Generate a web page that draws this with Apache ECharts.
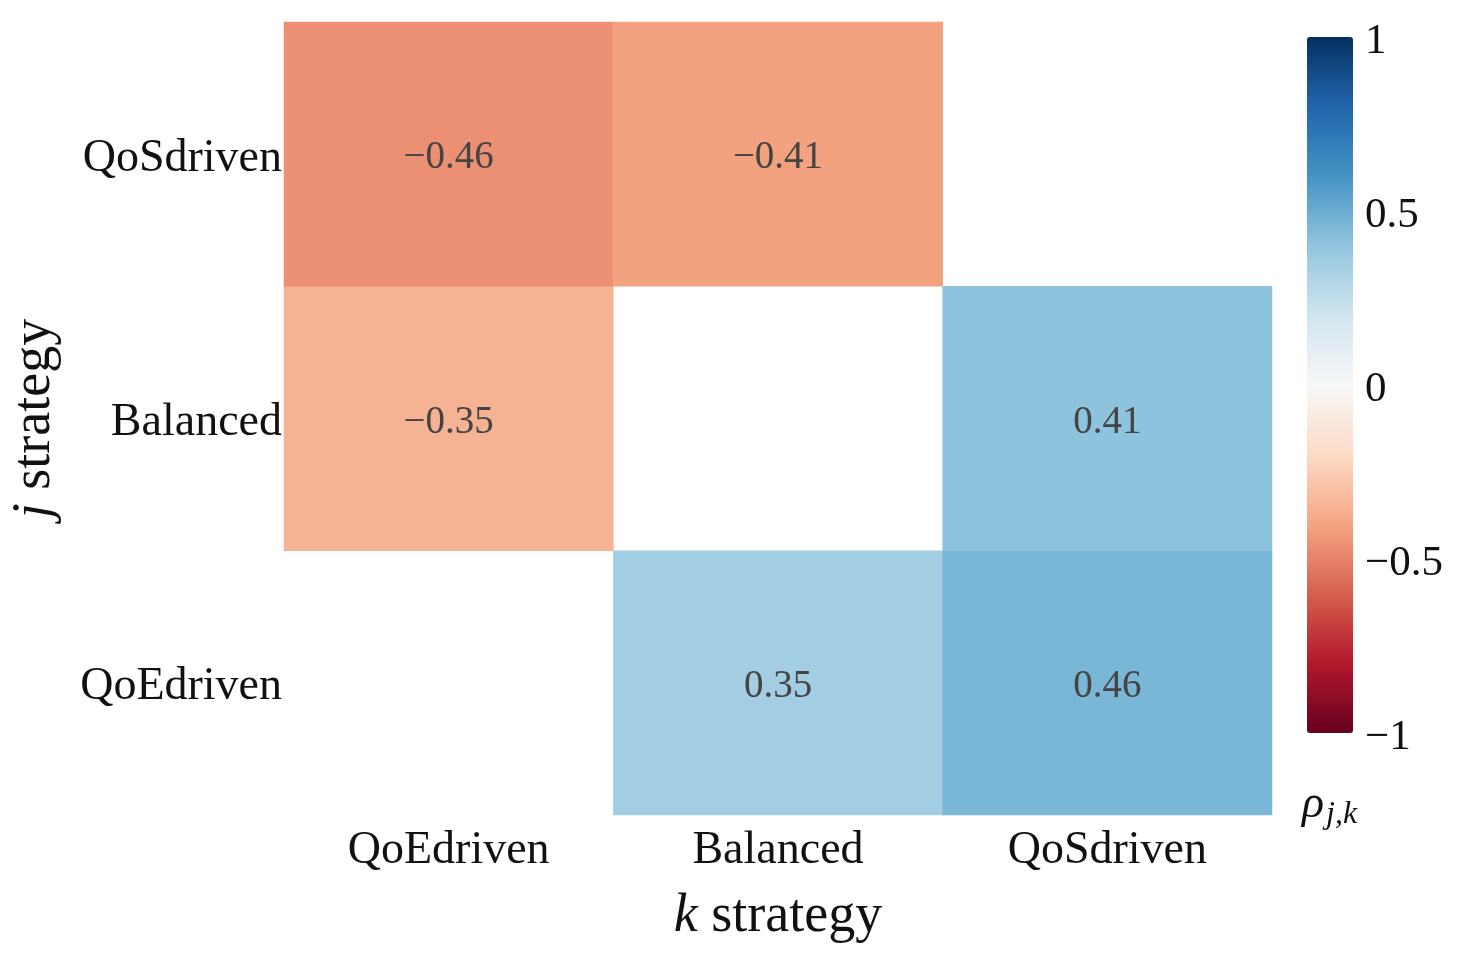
<!DOCTYPE html>
<html>
<head>
<meta charset="utf-8">
<script src="https://cdn.jsdelivr.net/npm/echarts@6/dist/echarts.min.js"></script>
<style>
html,body{margin:0;padding:0;background:#fff;}
#chart{width:1459px;height:962px;}
</style>
</head>
<body>
<div id="chart"></div>
<script>
// Categories (x: k strategy, y: j strategy, bottom to top)
const xCategories = ['QoEdriven', 'Balanced', 'QoSdriven'];
const yCategories = ['QoEdriven', 'Balanced', 'QoSdriven'];
// Correlation values per j row (columns follow xCategories); null = masked
const rowQoEdriven = [null, 0.35, 0.46];
const rowBalanced = [-0.35, null, 0.41];
const rowQoSdriven = [-0.46, -0.41, null];
const colorbarTicks = [-1, -0.5, 0, 0.5, 1];
const rdbu = ['#67001f','#b2182b','#d6604d','#f4a582','#fddbc7','#f7f7f7','#d1e5f0','#92c5de','#4393c3','#2166ac','#053061'];

const rows = [rowQoEdriven, rowBalanced, rowQoSdriven];
const data = [];
rows.forEach((row, yi) => {
  row.forEach((v, xi) => {
    if (v !== null) data.push([xi, yi, v]);
  });
});

const FONT = '"Liberation Serif", "DejaVu Serif", serif';
const fmt = v => (v < 0 ? '\u2212' + Math.abs(v) : String(v));

const chart = echarts.init(document.getElementById('chart'));
chart.setOption({
  backgroundColor: '#ffffff',
  animation: false,
  textStyle: { fontFamily: FONT },
  grid: [
    { left: 284, right: 187, top: 22, bottom: 147 },
    { left: 1307, top: 37, width: 46, height: 696 }
  ],
  xAxis: [
    {
      type: 'category', data: xCategories, gridIndex: 0,
      axisLine: { show: false }, axisTick: { show: false }, splitLine: { show: false },
      axisLabel: { fontSize: 46, color: '#111', margin: 13, fontFamily: FONT },
      name: '{i|k} strategy', nameLocation: 'middle', nameGap: 75,
      nameTextStyle: {
        fontSize: 54, color: '#111', fontFamily: FONT,
        rich: { i: { fontSize: 54, fontStyle: 'italic', color: '#111', fontFamily: FONT } }
      }
    },
    { type: 'value', gridIndex: 1, show: false, min: 0, max: 1 }
  ],
  yAxis: [
    {
      type: 'category', data: yCategories, gridIndex: 0,
      axisLine: { show: false }, axisTick: { show: false }, splitLine: { show: false },
      axisLabel: {
        fontSize: 46, color: '#111', margin: 2, fontFamily: FONT,
        formatter: v => '{a|' + v + '}',
        rich: { a: { fontSize: 46, color: '#111', fontFamily: FONT, padding: [9, 0, 0, 0] } }
      },
      name: '{i|j} strategy', nameLocation: 'middle', nameGap: 222, nameRotate: 90,
      nameTextStyle: {
        fontSize: 54, color: '#111', fontFamily: FONT,
        rich: { i: { fontSize: 54, fontStyle: 'italic', color: '#111', fontFamily: FONT } }
      }
    },
    {
      type: 'value', gridIndex: 1, position: 'right', min: -1, max: 1, interval: 0.5,
      axisLine: { show: false }, axisTick: { show: false }, splitLine: { show: false },
      axisLabel: {
        fontSize: 43, color: '#111', margin: 12, fontFamily: FONT,
        formatter: v => '{a|' + fmt(v) + '}',
        rich: { a: { fontSize: 43, color: '#111', fontFamily: FONT, padding: [10, 0, 0, 0] } }
      }
    }
  ],
  visualMap: {
    type: 'continuous', min: -1, max: 1, seriesIndex: 0,
    calculable: false, hoverLink: false, text: null, showLabel: false,
    orient: 'vertical', left: 1307, top: 37, padding: 0,
    itemWidth: 46, itemHeight: 696,
    inRange: { color: rdbu }
  },
  series: [
    {
      type: 'heatmap', xAxisIndex: 0, yAxisIndex: 0, data: data,
      label: {
        show: true, fontSize: 39, color: '#444444', fontFamily: FONT,
        offset: [0, 4],
        formatter: p => fmt(p.value[2])
      },
      itemStyle: { borderWidth: 0 },
      emphasis: { disabled: true }
    },
    {
      type: 'scatter', xAxisIndex: 1, yAxisIndex: 1, data: colorbarTicks.map(t => [0.5, t]),
      symbolSize: 0, silent: true, itemStyle: { opacity: 0 }
    }
  ],
  graphic: [
    {
      type: 'text', left: 1302, top: 782,
      style: {
        text: '{r|ρ}{s|j,k}',
        rich: {
          r: { fontSize: 46, fontStyle: 'italic', fontFamily: FONT, fill: '#111' },
          s: { fontSize: 32, fontStyle: 'italic', fontFamily: FONT, fill: '#111', verticalAlign: 'bottom', padding: [20, 0, 0, 2] }
        }
      }
    }
  ]
});
</script>
</body>
</html>
